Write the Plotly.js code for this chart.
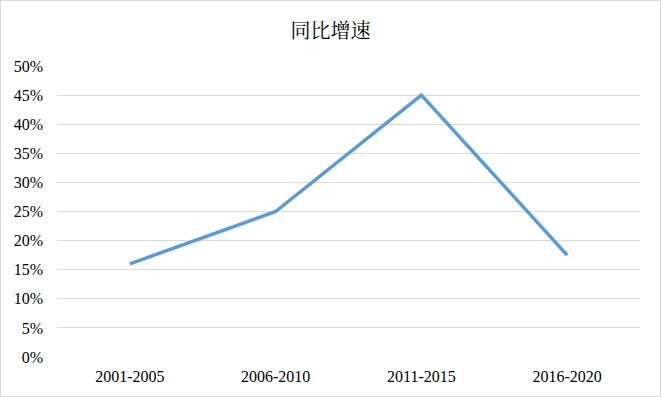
<!DOCTYPE html>
<html><head><meta charset="utf-8">
<script src="https://cdn.plot.ly/plotly-3.0.1.min.js"></script>
<style>body{margin:0;padding:0;background:#fff}#wrap{width:661px;height:397px;box-sizing:border-box;border:1px solid #d9d9d9;overflow:hidden}</style>
</head><body><div id="wrap"><div id="chart"></div></div>
<script>
const categories = ["2001-2005", "2006-2010", "2011-2015", "2016-2020"];
const growth = [0.16, 0.25, 0.45, 0.175];
const yTicks = [0, 0.05, 0.10, 0.15, 0.20, 0.25, 0.30, 0.35, 0.40, 0.45, 0.50];
const yTickLabels = ["0%", "5%", "10%", "15%", "20%", "25%", "30%", "35%", "40%", "45%", "50%"];
const chartTitle = "同比增速";

Plotly.newPlot("chart", [{
  type: "scatter", mode: "lines", x: categories, y: growth,
  line: {color: "#5B9BD5", width: 3.5}, hoverinfo: "skip"
}], {
  width: 659, height: 395,
  margin: {l: 56, r: 20, t: 65, b: 39},
  paper_bgcolor: "#fff", plot_bgcolor: "#fff",
  showlegend: false,
  title: {text: chartTitle, x: 0.5, xanchor: "center", y: 0.925, yanchor: "middle",
    font: {family: "Noto Serif CJK SC, Noto Sans CJK SC", size: 20, color: "#000"}},
  xaxis: {type: "category", range: [-0.5, 3.5], showgrid: false, zeroline: false,
    showline: false, ticks: "", ticklabelstandoff: 8,
    tickfont: {family: "Liberation Serif", size: 16, color: "#000"}},
  yaxis: {range: [0, 0.5], tickvals: yTicks, ticktext: yTickLabels, showgrid: true,
    gridcolor: "#d9d9d9", gridwidth: 1, zeroline: false, showline: false, ticks: "",
    ticklabelstandoff: 13,
    tickfont: {family: "Liberation Serif", size: 16, color: "#000"}}
}, {displayModeBar: false, staticPlot: true});
</script></body></html>
